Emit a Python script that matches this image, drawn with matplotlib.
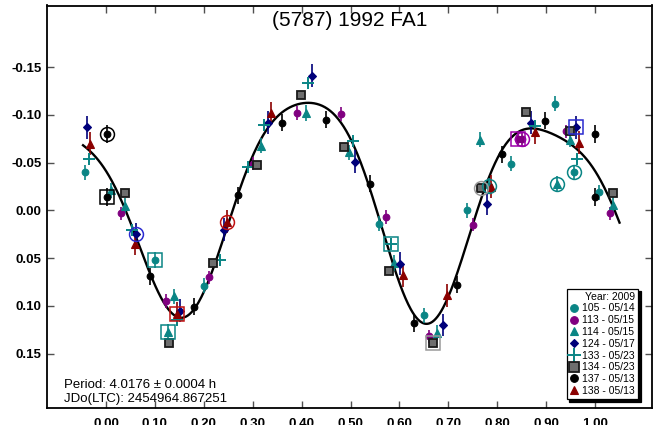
import numpy as np
import matplotlib
matplotlib.use("Agg")
import matplotlib.pyplot as plt
from matplotlib.lines import Line2D

plt.rcParams['font.family'] = ['Liberation Sans', 'DejaVu Sans']

# ---------------- data (phase, relative magnitude, ring flag) ----------------
s105_x = [-0.043, 0.100, 0.200, 0.559, 0.651, 0.739, 0.783, 0.829, 0.919, 0.957, 1.009]
s105_y = [-0.040, 0.052, 0.079, 0.014, 0.110, 0.000, -0.026, -0.049, -0.112, -0.040, -0.019]
s105_r = "-s----o--o-"

s113_x = [0.031, 0.122, 0.211, 0.300, 0.391, 0.481, 0.572, 0.660, 0.751, 0.842, 0.851, 0.941, 1.031]
s113_y = [0.003, 0.095, 0.070, -0.049, -0.102, -0.101, 0.007, 0.132, 0.015, -0.075, -0.075, -0.083, 0.003]
s113_r = "---------so--"

s114_x = [0.010, 0.038, 0.127, 0.138, 0.317, 0.408, 0.496, 0.588, 0.677, 0.765, 0.923, 0.948, 1.037]
s114_y = [-0.021, -0.005, 0.127, 0.090, -0.068, -0.102, -0.061, 0.055, 0.128, -0.074, -0.028, -0.074, -0.006]
s114_r = "--s-------o--"

s124_x = [-0.039, 0.061, 0.152, 0.241, 0.331, 0.422, 0.510, 0.601, 0.690, 0.780, 0.869, 0.960]
s124_y = [-0.087, 0.025, 0.105, 0.020, -0.092, -0.141, -0.051, 0.056, 0.120, -0.007, -0.092, -0.087]
s124_r = "-o---------s"

s133_x = [-0.035, 0.054, 0.146, 0.234, 0.290, 0.324, 0.413, 0.504, 0.583, 0.878, 0.963]
s133_y = [-0.054, 0.021, 0.115, 0.052, -0.045, -0.089, -0.134, -0.073, 0.035, -0.088, -0.054]
s133_r = "--------s--"

s134_x = [0.038, 0.129, 0.218, 0.309, 0.399, 0.487, 0.578, 0.668, 0.767, 0.858, 0.948, 1.037]
s134_y = [-0.018, 0.139, 0.055, -0.048, -0.121, -0.066, 0.063, 0.139, -0.024, -0.103, -0.083, -0.018]
s134_r = "-------so---"

s137_x = [0.001, 0.001, 0.090, 0.180, 0.270, 0.359, 0.449, 0.539, 0.629, 0.717, 0.809, 0.898, 0.999, 1.000]
s137_y = [-0.080, -0.014, 0.069, 0.101, -0.016, -0.092, -0.095, -0.028, 0.118, 0.078, -0.059, -0.094, -0.080, -0.014]
s137_r = "os------------"

s138_x = [-0.033, 0.059, 0.146, 0.248, 0.337, 0.607, 0.697, 0.787, 0.877, 0.967]
s138_y = [-0.070, 0.035, 0.108, 0.012, -0.102, 0.068, 0.089, -0.025, -0.082, -0.071]
s138_r = "--so------"

labels = ["105 - 05/14", "113 - 05/15", "114 - 05/15", "124 - 05/17",
          "133 - 05/23", "134 - 05/23", "137 - 05/13", "138 - 05/13"]
legend_title = "Year: 2009"
title = "(5787) 1992 FA1"
period_text = "Period: 4.0176 \u00b1 0.0004 h"
jdo_text = "JDo(LTC): 2454964.867251"
x_ticks = [0.0, 0.1, 0.2, 0.3, 0.4, 0.5, 0.6, 0.7, 0.8, 0.9, 1.0]
y_ticks = [-0.15, -0.10, -0.05, 0.00, 0.05, 0.10, 0.15]
fourier_order = 4
curve_range = (-0.047, 1.05)

# ---------------- styles ----------------
teal = '#0a8585'
styles = [
    dict(marker='o', mfc=teal, mec=teal, ms=4.8, color=teal, ring=teal, err=0.008),
    dict(marker='o', mfc='#800080', mec='#800080', ms=4.8, color='#800080', ring='#9a00a8', err=0.007),
    dict(marker='^', mfc=teal, mec=teal, ms=5.4, color=teal, ring=teal, err=0.008),
    dict(marker='D', mfc='#00007a', mec='#00007a', ms=3.8, color='#00007a', ring='#2a2ad0', err=0.012),
    dict(marker='+', mfc=teal, mec=teal, ms=9, color=teal, ring=teal, err=0.004, mew=1.4),
    dict(marker='s', mfc='#6e6e6e', mec='#1a1a1a', ms=5.8, color='#505050', ring='#9a9a9a', err=0.004, mew=1.3),
    dict(marker='o', mfc='black', mec='black', ms=4.8, color='black', ring='black', err=0.009),
    dict(marker='^', mfc='#8b0000', mec='#8b0000', ms=5.4, color='#8b0000', ring='#c01010', err=0.012),
]
series = [(s105_x, s105_y, s105_r), (s113_x, s113_y, s113_r), (s114_x, s114_y, s114_r),
          (s124_x, s124_y, s124_r), (s133_x, s133_y, s133_r), (s134_x, s134_y, s134_r),
          (s137_x, s137_y, s137_r), (s138_x, s138_y, s138_r)]

W, H = 661, 425
fig = plt.figure(figsize=(W / 100, H / 100), dpi=100)
ax_l, ax_r, ax_t, ax_b = 47, 652, 5.5, 408
ax = fig.add_axes([ax_l / W, (H - ax_b) / H, (ax_r - ax_l) / W, (ax_b - ax_t) / H])

# Fourier fit of all data
allx = np.concatenate([np.array(s[0]) for s in series])
ally = np.concatenate([np.array(s[1]) for s in series])
def design(ph):
    cols = [np.ones_like(ph)]
    for k in range(1, fourier_order + 1):
        cols.append(np.cos(2 * np.pi * k * ph))
        cols.append(np.sin(2 * np.pi * k * ph))
    return np.column_stack(cols)
coef, *_ = np.linalg.lstsq(design(allx), ally, rcond=None)
ph = np.linspace(curve_range[0], curve_range[1], 600)
ax.plot(ph, design(ph) @ coef, color='black', lw=1.7, zorder=2)

handles = []
for (xs, ys, rs), st in zip(series, styles):
    xs = np.array(xs); ys = np.array(ys)
    ax.errorbar(xs, ys, yerr=st['err'], fmt='none', ecolor=st['color'], elinewidth=1.2, capsize=0, zorder=3)
    ax.plot(xs, ys, ls='none', marker=st['marker'], mfc=st['mfc'], mec=st['mec'], ms=st['ms'],
            mew=st.get('mew', 0.8), zorder=4)
    for x, y, r in zip(xs, ys, rs):
        if r in 'so':
            ax.plot([x], [y], ls='none', marker=r, ms=10 if r == 'o' else 10.5, mfc='none',
                    mec=st['ring'], mew=1.1, zorder=5)
    handles.append(Line2D([], [], ls='none', marker=st['marker'], mfc=st['mfc'], mec=st['mec'],
                          ms=st['ms'] * 1.15, mew=st.get('mew', 0.8)))

ax.set_xlim(-0.1207, 1.1164)
ax.set_ylim(0.207, -0.2147)
ax.set_xticks(x_ticks)
ax.set_xticklabels([f"{v:.2f}" for v in x_ticks])
ax.set_yticks(y_ticks)
ax.set_yticklabels([f"{v:.2f}" for v in y_ticks])
ax.tick_params(axis='both', direction='in', length=5, width=1, color='#505050',
               top=True, right=True, labelsize=9.5)
ax.tick_params(axis='x', pad=7)
ax.tick_params(axis='y', pad=4)
for lab in ax.get_xticklabels() + ax.get_yticklabels():
    lab.set_fontweight('bold')
for sp in ax.spines.values():
    sp.set_linewidth(1.3)
    sp.set_color('black')

ax.text(0.5, (ax_b - 21) / (ax_b - ax_t), title, transform=ax.transAxes, ha='center', va='center',
        fontsize=15)
ax.text((64 - ax_l) / (ax_r - ax_l), (ax_b - 385) / (ax_b - ax_t), period_text, transform=ax.transAxes,
        ha='left', va='center', fontsize=9.5)
ax.text((64 - ax_l) / (ax_r - ax_l), (ax_b - 399) / (ax_b - ax_t), jdo_text, transform=ax.transAxes,
        ha='left', va='center', fontsize=9.5)

leg = ax.legend(handles, labels, title=legend_title, loc='lower right',
                bbox_to_anchor=((638 - ax_l) / (ax_r - ax_l), (ax_b - 399) / (ax_b - ax_t)),
                borderaxespad=0, fontsize=7.5, title_fontsize=7.5, alignment='right',
                frameon=True, fancybox=False, framealpha=1, edgecolor='black',
                handlelength=0.8, handletextpad=0.4, borderpad=0.3, labelspacing=0.17,
                shadow={'facecolor': 'black', 'edgecolor': 'black', 'alpha': 1, 'ox': 2, 'oy': -2})
leg.get_frame().set_linewidth(0.9)
leg.set_zorder(10)

fig.savefig('out.png', dpi=100)
